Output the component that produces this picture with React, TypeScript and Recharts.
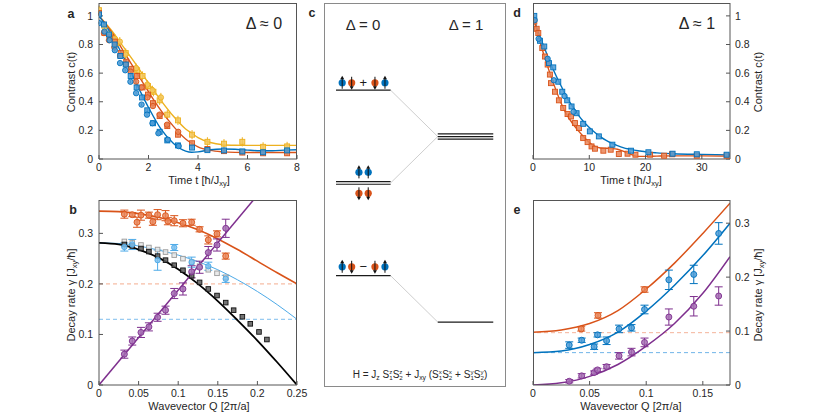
import React from "react";
import { ComposedChart, ErrorBar, Line, ReferenceLine, Scatter, XAxis, YAxis } from "recharts";

const FONT = '"Liberation Sans", Arial, Helvetica, sans-serif';
const AXIS = "#555555";
const TICK = { fontSize: 10.5, fill: "#262626" };
const AX = { type: "number" as const, stroke: AXIS, tickSize: -4, interval: 0 as const, allowDataOverflow: true };

const BLUE = "#0072BD";
const BLUE_FILL = "#4C9BD6";
const ORANGE = "#D95319";
const ORANGE_FILL = "#E98558";
const YELLOW = "#EDB120";
const YELLOW_FILL = "#F3C85E";
const PURPLE = "#7E2F8E";
const PURPLE_FILL = "#A56DB3";
const LIGHT = "#4DAAE8";
const LIGHT_FILL = "#7DC0EE";

// ---- a: contrast c(t), Δ ≈ 0
const aTicksX = [0, 2, 4, 6, 8];
const aTicksY = [0, 0.2, 0.4, 0.6, 0.8, 1];
const aBlueSqT = [0, 0.2, 0.4, 0.63, 0.86, 1.08, 1.28, 1.52, 1.74, 1.95, 2.18, 2.45, 2.76, 3.19, 3.76, 4.38, 5.05, 5.79, 6.63, 7.6];
const aBlueSqC = [1.01, 0.94, 0.87, 0.8, 0.72, 0.66, 0.58, 0.5, 0.43, 0.34, 0.25, 0.19, 0.13, 0.095, 0.08, 0.062, 0.06, 0.053, 0.047, 0.06];
const aBlueCiT = [0, 0.22, 0.43, 0.64, 0.85, 1.06, 1.27, 1.5, 1.72, 1.94, 2.16, 2.4, 2.78, 3.22];
const aBlueCiC = [0.95, 0.89, 0.83, 0.76, 0.67, 0.62, 0.54, 0.46, 0.38, 0.31, 0.25, 0.18, 0.135, 0.09];
const aOrangeSqT = [0, 0.22, 0.43, 0.64, 0.88, 1.1, 1.3, 1.54, 1.76, 1.98, 2.18, 2.45, 2.76, 3.19, 3.76, 4.38, 5.05, 5.79, 6.63, 7.6];
const aOrangeSqC = [1.02, 0.88, 0.85, 0.82, 0.74, 0.68, 0.63, 0.58, 0.5, 0.45, 0.39, 0.3, 0.23, 0.17, 0.11, 0.07, 0.055, 0.045, 0.04, 0.04];
const aOrangeCiT = [0.2, 0.4, 0.62, 0.85, 1.08, 1.28, 1.5, 1.72, 1.96, 2.18, 2.45, 2.75, 3.2];
const aOrangeCiC = [0.88, 0.83, 0.78, 0.72, 0.66, 0.61, 0.54, 0.5, 0.43, 0.37, 0.31, 0.24, 0.19];
const aYellowSqT = [0, 0.43, 0.7, 1.08, 1.54, 1.76, 1.98, 2.2, 2.45, 2.76, 3.19, 3.76, 4.38, 5.05, 5.79, 6.63, 7.6];
const aYellowSqC = [1.04, 0.87, 0.81, 0.74, 0.62, 0.58, 0.51, 0.47, 0.41, 0.31, 0.27, 0.17, 0.12, 0.107, 0.12, 0.085, 0.088];
const aYellowCiT = [0.22, 0.64, 0.84, 1.07, 1.5, 1.95, 2.16, 2.5];
const aYellowCiC = [0.92, 0.84, 0.82, 0.73, 0.635, 0.52, 0.48, 0.43];
const aYellowErr = 0.032;
const aOrangeErr = 0.018;
const aBlueErr = 0.01;
const aFitT = [0, 0.5, 1, 1.5, 2, 2.5, 3, 3.5, 3.75, 4, 4.5, 5, 5.5, 6, 6.5, 7, 7.5, 8];
const aFitBlue = [1.0, 0.87, 0.71, 0.53, 0.36, 0.21, 0.11, 0.055, 0.047, 0.05, 0.065, 0.07, 0.068, 0.062, 0.058, 0.058, 0.062, 0.065];
const aFitOrange = [1.0, 0.89, 0.75, 0.61, 0.47, 0.34, 0.23, 0.14, 0.11, 0.085, 0.06, 0.05, 0.046, 0.045, 0.045, 0.045, 0.045, 0.045];
const aFitYellow = [1.0, 0.9, 0.78, 0.66, 0.53, 0.41, 0.3, 0.21, 0.18, 0.15, 0.115, 0.1, 0.096, 0.095, 0.095, 0.095, 0.095, 0.095];

// ---- b: decay rate vs Q, Δ ≈ 0
const bTicksX = [0, 0.05, 0.1, 0.15, 0.2, 0.25];
const bTicksY = [0, 0.1, 0.2, 0.3];
const bOrangeQ = [0.032, 0.042, 0.048, 0.053, 0.063, 0.068, 0.074, 0.084, 0.087, 0.095, 0.106, 0.117, 0.127, 0.138, 0.149, 0.16];
const bOrangeG = [0.338, 0.337, 0.322, 0.336, 0.336, 0.323, 0.337, 0.335, 0.324, 0.325, 0.32, 0.322, 0.308, 0.287, 0.299, 0.255];
const bOrangeE = [0.008, 0.004, 0.01, 0.01, 0.006, 0.007, 0.01, 0.01, 0.007, 0.01, 0.007, 0.006, 0.005, 0.008, 0.006, 0.006];
const bLightQ = [0.032, 0.042, 0.074, 0.095, 0.117, 0.138, 0.16];
const bLightG = [0.273, 0.278, 0.247, 0.272, 0.243, 0.235, 0.21];
const bLightE = [0.008, 0.01, 0.02, 0.006, 0.01, 0.008, 0.007];
const bGreyQ = [0.032, 0.042, 0.053, 0.063, 0.074, 0.084, 0.095, 0.106, 0.117, 0.127, 0.138, 0.149, 0.16];
const bGreyG = [0.284, 0.281, 0.277, 0.272, 0.268, 0.263, 0.257, 0.25, 0.243, 0.235, 0.228, 0.221, 0.213];
const bBlackQ = [0.032, 0.042, 0.053, 0.063, 0.074, 0.084, 0.095, 0.106, 0.117, 0.127, 0.138, 0.149, 0.16, 0.17, 0.181, 0.191, 0.202, 0.212];
const bBlackG = [0.278, 0.275, 0.27, 0.264, 0.255, 0.247, 0.237, 0.227, 0.216, 0.203, 0.19, 0.177, 0.163, 0.148, 0.135, 0.121, 0.105, 0.09];
const bPurpleQ = [0.032, 0.042, 0.053, 0.063, 0.074, 0.084, 0.095, 0.106, 0.117, 0.127, 0.138, 0.149, 0.16];
const bPurpleG = [0.061, 0.087, 0.104, 0.115, 0.134, 0.148, 0.181, 0.19, 0.224, 0.233, 0.262, 0.277, 0.31];
const bPurpleE = [0.008, 0.008, 0.01, 0.008, 0.008, 0.008, 0.01, 0.012, 0.012, 0.012, 0.012, 0.012, 0.018];
const bFitQ = [0, 0.025, 0.05, 0.075, 0.1, 0.125, 0.15, 0.175, 0.2, 0.225, 0.25];
const bFitOrange = [0.344, 0.343, 0.339, 0.332, 0.321, 0.307, 0.289, 0.268, 0.245, 0.222, 0.2];
const bFitBlack = [0.281, 0.278, 0.268, 0.252, 0.229, 0.2, 0.166, 0.128, 0.088, 0.045, 0];
const bFitLight = [0.281, 0.28, 0.275, 0.267, 0.257, 0.244, 0.228, 0.208, 0.185, 0.159, 0.13];
const bPurpleLineQ = [0, 0.195];
const bPurpleLineG = [0, 0.366];
const bOrangeLevel = 0.2;
const bLightLevel = 0.13;

// ---- c: level scheme (energies in units of J_xy)
const cLevels0 = [0.5, 0, -0.5];
const cDegen0 = [1, 2, 1];
const cLevels1 = [0.25, -0.75];
const cDegen1 = [3, 1];
const cLinkFrom = [0.5, 0, -0.5];
const cLinkTo = [0.25, 0.25, -0.75];
const cSpinX = [1.0, 1.52, 2.16, 2.8, 3.35, 1.92, 2.43, 1.92, 2.43, 1.0, 1.52, 2.16, 2.8, 3.35];
const cSpinE = [0.54, 0.54, 0.54, 0.54, 0.54, 0.057, 0.057, -0.056, -0.056, -0.452, -0.452, -0.452, -0.452, -0.452];
const cSpinKind = ["up", "down", "+", "down", "up", "up", "up", "down", "down", "up", "down", "−", "down", "up"];

// ---- d: contrast c(t), Δ ≈ 1
const dTicksX = [0, 10, 20, 30];
const dTicksY = [0, 0.2, 0.4, 0.6, 0.8, 1];
const dBlueSqT = [0.23, 1.24, 2.0, 2.84, 3.6, 4.49, 5.2, 6.08, 6.85, 7.74, 8.92, 10.1, 11.7, 14.1, 17.4, 20.5, 24.8, 29.1, 34.4];
const dBlueSqC = [1.0, 0.826, 0.786, 0.67, 0.64, 0.54, 0.47, 0.41, 0.367, 0.32, 0.246, 0.193, 0.158, 0.1, 0.058, 0.047, 0.037, 0.033, 0.03];
const dBlueCiT = [0.3, 1.0, 2.6, 3.7, 5.6, 7.2];
const dBlueCiC = [0.97, 0.84, 0.7, 0.55, 0.44, 0.33];
const dOrangeSqT = [0.23, 0.65, 0.94, 1.65, 2.12, 2.6, 3.0, 3.19, 3.9, 4.6, 5.37, 6.14, 6.74, 7.45, 8.16, 8.92, 9.7, 10.4, 11.0, 12.5, 13.8, 15.25, 16.8, 18.2, 20.8, 23.3, 24.7, 29.1, 34.4];
const dOrangeSqC = [0.96, 0.91, 0.88, 0.775, 0.716, 0.66, 0.59, 0.53, 0.47, 0.41, 0.356, 0.314, 0.297, 0.251, 0.216, 0.146, 0.118, 0.088, 0.072, 0.058, 0.065, 0.035, 0.037, 0.03, 0.03, 0.023, 0.033, 0.023, 0.023];
const dFitT = [0, 1, 2, 3, 4, 5, 6, 7, 8, 9, 10, 11, 12, 13, 14, 15, 16, 17, 18, 19, 20, 22, 25, 30, 35];
const dFitBlue = [1.0, 0.88, 0.78, 0.68, 0.59, 0.51, 0.43, 0.37, 0.31, 0.26, 0.22, 0.185, 0.155, 0.13, 0.11, 0.094, 0.08, 0.07, 0.062, 0.056, 0.05, 0.043, 0.037, 0.032, 0.028];
const dFitOrange = [1.0, 0.85, 0.72, 0.6, 0.49, 0.39, 0.31, 0.25, 0.2, 0.155, 0.115, 0.088, 0.077, 0.075, 0.073, 0.068, 0.055, 0.038, 0.024, 0.018, 0.018, 0.02, 0.022, 0.022, 0.02];

// ---- e: decay rate vs Q, Δ ≈ 1
const eTicksX = [0, 0.05, 0.1, 0.15];
const eTicksY = [0, 0.1, 0.2, 0.3];
const eOrangeQ = [0.0426, 0.0574, 0.0985];
const eOrangeG = [0.104, 0.129, 0.177];
const eOrangeE = [0.004, 0.005, 0.005];
const eBlueQ = [0.032, 0.043, 0.054, 0.057, 0.065, 0.076, 0.087, 0.0985, 0.12, 0.142, 0.164];
const eBlueG = [0.074, 0.083, 0.071, 0.093, 0.082, 0.104, 0.106, 0.14, 0.195, 0.205, 0.281];
const eBlueE = [0.006, 0.004, 0.005, 0.004, 0.007, 0.007, 0.006, 0.008, 0.018, 0.017, 0.02];
const ePurpleQ = [0.032, 0.043, 0.054, 0.057, 0.065, 0.076, 0.087, 0.0985, 0.12, 0.142, 0.164];
const ePurpleG = [0.007, 0.017, 0.023, 0.028, 0.034, 0.054, 0.061, 0.079, 0.126, 0.146, 0.165];
const ePurpleE = [0.003, 0.004, 0.003, 0.003, 0.004, 0.006, 0.007, 0.008, 0.015, 0.018, 0.017];
const eFitQ = [0, 0.025, 0.05, 0.075, 0.1, 0.125, 0.15, 0.174];
const eFitOrange = [0.098, 0.102, 0.114, 0.138, 0.178, 0.226, 0.281, 0.337];
const eFitBlue = [0.06, 0.063, 0.075, 0.098, 0.137, 0.185, 0.24, 0.3];
const eFitPurple = [0, 0.004, 0.016, 0.038, 0.072, 0.114, 0.17, 0.238];
const eOrangeLevel = 0.097;
const eBlueLevel = 0.06;

type Row = { x: number; y: number; e?: number; kind?: string };

const rows = (xs: number[], ys: number[], err?: number | number[]): Row[] =>
  xs.map((x, i) => ({
    x,
    y: ys[i],
    e: err === undefined ? undefined : typeof err === "number" ? err : err[i]
  }));

const dot = (fill: string, stroke: string, r = 2.7) => (p: any) =>
  p.cx == null ? <g /> : (
    <circle cx={p.cx} cy={p.cy} r={r} fill={fill} fillOpacity={0.85} stroke={stroke} strokeWidth={0.9} />
  );

const square = (fill: string, stroke: string, s = 5) => (p: any) =>
  p.cx == null ? <g /> : (
    <rect x={p.cx - s / 2} y={p.cy - s / 2} width={s} height={s} fill={fill} fillOpacity={0.85} stroke={stroke} strokeWidth={0.9} />
  );

function points(key: string, data: Row[], shape: any, errColor?: string, cap = 0) {
  return (
    <Scatter key={key} data={data} dataKey="y" shape={shape} isAnimationActive={false}>
      {errColor ? <ErrorBar dataKey="e" direction="y" width={cap} stroke={errColor} strokeWidth={1} /> : null}
    </Scatter>
  );
}

function fit(key: string, data: Row[], color: string, width = 1.4) {
  return (
    <Line
      key={key}
      data={data}
      dataKey="y"
      type="monotone"
      stroke={color}
      strokeWidth={width}
      dot={false}
      activeDot={false}
      isAnimationActive={false}
    />
  );
}

const levelShape = (n: number) => (p: any) => {
  const gap = 2.6;
  const lines = [];
  for (let i = 0; i < n; i++) {
    const dy = (i - (n - 1) / 2) * gap;
    lines.push(<line key={i} x1={p.x1} x2={p.x2} y1={p.y1 + dy} y2={p.y2 + dy} stroke="#1a1a1a" strokeWidth={1.2} />);
  }
  return <g>{lines}</g>;
};

const spinShape = (p: any) => {
  const { cx, cy, payload } = p;
  if (cx == null) return <g />;
  if (payload.kind !== "up" && payload.kind !== "down") {
    return (
      <text x={cx} y={cy + 4} textAnchor="middle" fontSize={13} fill="#1a1a1a">
        {payload.kind}
      </text>
    );
  }
  const up = payload.kind === "up";
  const d = up ? -1 : 1;
  const tip = cy + d * 7;
  return (
    <g>
      <circle cx={cx} cy={cy} r={3.6} fill={up ? BLUE : ORANGE} />
      <line x1={cx} y1={cy - d * 6} x2={cx} y2={tip - d * 3} stroke="#111" strokeWidth={1} />
      <path d={`M${cx - 2},${tip - d * 3.5} L${cx + 2},${tip - d * 3.5} L${cx},${tip} Z`} fill="#111" />
    </g>
  );
};

// closes the axes box on the sides opposite to the labelled axes
function Box({ left, top, width, height, open }: any) {
  const line = `1px solid ${AXIS}`;
  return (
    <div
      style={{
        position: "absolute",
        zIndex: 2,
        left,
        top,
        width,
        height,
        boxSizing: "border-box",
        borderTop: line,
        borderRight: open === "left" ? line : "none",
        borderLeft: open === "right" ? line : "none",
        pointerEvents: "none"
      }}
    />
  );
}

function Txt({ x, y, size = 11, bold = false, rotate = false, children }: any) {
  return (
    <div
      style={{
        position: "absolute",
        zIndex: 3,
        left: x,
        top: y,
        transform: `translate(-50%, -50%)${rotate ? " rotate(-90deg)" : ""}`,
        fontSize: size,
        fontWeight: bold ? 700 : 400,
        whiteSpace: "nowrap",
        lineHeight: 1
      }}
    >
      {children}
    </div>
  );
}

const Sub = ({ children }: any) => (
  <span style={{ fontSize: "0.68em", position: "relative", top: "0.3em" }}>{children}</span>
);

const SS = ({ sup, sub }: any) => (
  <span>
    S
    <span style={{ display: "inline-flex", flexDirection: "column", fontSize: "0.62em", lineHeight: 0.95, verticalAlign: "middle" }}>
      <span>{sup}</span>
      <span>{sub}</span>
    </span>
  </span>
);

export default function App() {
  const spins = cSpinX.map((x, i) => ({ x, y: cSpinE[i], kind: cSpinKind[i] }));

  return (
    <div
      style={{
        position: "absolute",
        left: 0,
        top: 0,
        width: 830,
        height: 417,
        background: "#fff",
        fontFamily: FONT,
        color: "#262626"
      }}
    >
      {/* a */}
      <div style={{ position: "absolute", left: 0, top: 0 }}>
        <ComposedChart width={320} height={190} margin={{ top: 3, right: 23, bottom: 11, left: 69 }}>
          <XAxis dataKey="x" domain={[0, 8]} ticks={aTicksX} height={20} tickMargin={9} tick={TICK} {...AX} />
          <YAxis dataKey="y" domain={[0, 1.09]} ticks={aTicksY} width={30} tickMargin={10} tick={TICK} {...AX} />
          {points("ys", rows(aYellowSqT, aYellowSqC, aYellowErr), square(YELLOW_FILL, YELLOW), YELLOW)}
          {points("yc", rows(aYellowCiT, aYellowCiC, aYellowErr), dot(YELLOW_FILL, YELLOW), YELLOW)}
          {points("os", rows(aOrangeSqT, aOrangeSqC, aOrangeErr), square(ORANGE_FILL, ORANGE), ORANGE)}
          {points("oc", rows(aOrangeCiT, aOrangeCiC, aOrangeErr), dot(ORANGE_FILL, ORANGE), ORANGE)}
          {points("bs", rows(aBlueSqT, aBlueSqC, aBlueErr), square(BLUE_FILL, BLUE), BLUE)}
          {points("bc", rows(aBlueCiT, aBlueCiC, aBlueErr), dot(BLUE_FILL, BLUE), BLUE)}
          {fit("fy", rows(aFitT, aFitYellow), YELLOW)}
          {fit("fo", rows(aFitT, aFitOrange), ORANGE)}
          {fit("fb", rows(aFitT, aFitBlue), BLUE)}
        </ComposedChart>
      </div>
      <Box left={99} top={3} width={198} height={156} open="left" />

      {/* b */}
      <div style={{ position: "absolute", left: 0, top: 190 }}>
        <ComposedChart width={320} height={227} margin={{ top: 10, right: 23, bottom: 12, left: 69 }}>
          <XAxis dataKey="x" domain={[0, 0.25]} ticks={bTicksX} height={20} tickMargin={9} tick={TICK} {...AX} />
          <YAxis dataKey="y" domain={[0, 0.366]} ticks={bTicksY} width={30} tickMargin={10} tick={TICK} {...AX} />
          <ReferenceLine y={bOrangeLevel} stroke="#F4AD8F" strokeDasharray="4 3" strokeWidth={1} />
          <ReferenceLine y={bLightLevel} stroke="#7DBDED" strokeDasharray="4 3" strokeWidth={1} />
          {fit("fl", rows(bFitQ, bFitLight), LIGHT, 1)}
          {fit("fk", rows(bFitQ, bFitBlack), "#000", 1.8)}
          {fit("fo", rows(bFitQ, bFitOrange), ORANGE, 1.6)}
          {fit("fp", rows(bPurpleLineQ, bPurpleLineG), PURPLE, 1.5)}
          {points("g", rows(bGreyQ, bGreyG), square("#e6e6e6", "#9a9a9a", 4.6))}
          {points("k", rows(bBlackQ, bBlackG), square("#5a5a5a", "#111", 4.6))}
          {points("l", rows(bLightQ, bLightG, bLightE), dot(LIGHT_FILL, LIGHT), LIGHT, 4)}
          {points("o", rows(bOrangeQ, bOrangeG, bOrangeE), dot(ORANGE_FILL, ORANGE, 3), ORANGE, 4)}
          {points("p", rows(bPurpleQ, bPurpleG, bPurpleE), dot(PURPLE_FILL, PURPLE, 3), PURPLE, 4)}
        </ComposedChart>
      </div>
      <Box left={99} top={200} width={198} height={185} open="left" />

      {/* c */}
      <div
        style={{
          position: "absolute",
          left: 324,
          top: 3,
          width: 182,
          height: 384,
          border: "1px solid #8a8a8a",
          boxSizing: "border-box"
        }}
      />
      <div style={{ position: "absolute", left: 324, top: 3 }}>
        <ComposedChart width={182} height={384} margin={{ top: 0, right: 0, bottom: 0, left: 0 }}>
          <XAxis type="number" dataKey="x" domain={[0, 10]} hide />
          <YAxis type="number" dataKey="y" domain={[-1.1, 0.97]} hide />
          {cLinkFrom.map((e0, i) => (
            <ReferenceLine
              key={`link${i}`}
              segment={[
                { x: 3.66, y: e0 },
                { x: 6.25, y: cLinkTo[i] }
              ]}
              stroke="#c2c2c2"
              strokeWidth={0.8}
            />
          ))}
          {cLevels0.map((e, i) => (
            <ReferenceLine
              key={`l0${i}`}
              segment={[
                { x: 0.66, y: e },
                { x: 3.66, y: e }
              ]}
              shape={levelShape(cDegen0[i])}
            />
          ))}
          {cLevels1.map((e, i) => (
            <ReferenceLine
              key={`l1${i}`}
              segment={[
                { x: 6.25, y: e },
                { x: 9.3, y: e }
              ]}
              shape={levelShape(cDegen1[i])}
            />
          ))}
          <Scatter data={spins} dataKey="y" shape={spinShape} isAnimationActive={false} />
        </ComposedChart>
      </div>

      {/* d */}
      <div style={{ position: "absolute", left: 500, top: 0 }}>
        <ComposedChart width={330} height={190} margin={{ top: 3, right: 70, bottom: 11, left: 33 }}>
          <XAxis dataKey="x" domain={[0, 35]} ticks={dTicksX} height={20} tickMargin={9} tick={TICK} {...AX} />
          <YAxis dataKey="y" orientation="right" domain={[0, 1.09]} ticks={dTicksY} width={30} tickMargin={9} tick={TICK} {...AX} />
          {points("os", rows(dOrangeSqT, dOrangeSqC), square(ORANGE_FILL, ORANGE))}
          {points("bs", rows(dBlueSqT, dBlueSqC), square(BLUE_FILL, BLUE))}
          {points("bc", rows(dBlueCiT, dBlueCiC), dot(BLUE_FILL, BLUE))}
          {fit("fb", rows(dFitT, dFitBlue), BLUE)}
          {fit("fo", rows(dFitT, dFitOrange), ORANGE)}
        </ComposedChart>
      </div>
      <Box left={533} top={3} width={197} height={156} open="right" />

      {/* e */}
      <div style={{ position: "absolute", left: 500, top: 190 }}>
        <ComposedChart width={330} height={227} margin={{ top: 10, right: 70, bottom: 12, left: 33 }}>
          <XAxis dataKey="x" domain={[0, 0.174]} ticks={eTicksX} height={20} tickMargin={9} tick={TICK} {...AX} />
          <YAxis dataKey="y" orientation="right" domain={[0, 0.343]} ticks={eTicksY} width={30} tickMargin={9} tick={TICK} {...AX} />
          <ReferenceLine y={eOrangeLevel} stroke="#F4B39A" strokeDasharray="4 3" strokeWidth={1} />
          <ReferenceLine y={eBlueLevel} stroke="#6FB4E8" strokeDasharray="4 3" strokeWidth={1} />
          {fit("fo", rows(eFitQ, eFitOrange), ORANGE, 1.5)}
          {fit("fb", rows(eFitQ, eFitBlue), BLUE, 1.5)}
          {fit("fp", rows(eFitQ, eFitPurple), PURPLE, 1.5)}
          {points("o", rows(eOrangeQ, eOrangeG, eOrangeE), dot(ORANGE_FILL, ORANGE, 3), ORANGE, 4)}
          {points("b", rows(eBlueQ, eBlueG, eBlueE), dot(BLUE_FILL, BLUE, 3), BLUE, 4)}
          {points("p", rows(ePurpleQ, ePurpleG, ePurpleE), dot(PURPLE_FILL, PURPLE, 3), PURPLE, 4)}
        </ComposedChart>
      </div>
      <Box left={533} top={200} width={197} height={185} open="right" />

      {/* texts */}
      <Txt x={71} y={14} size={12.5} bold>a</Txt>
      <Txt x={73} y={210} size={12.5} bold>b</Txt>
      <Txt x={312} y={13} size={12.5} bold>c</Txt>
      <Txt x={517} y={13} size={12.5} bold>d</Txt>
      <Txt x={517} y={210} size={12.5} bold>e</Txt>

      <Txt x={264} y={24} size={16}>Δ ≈ 0</Txt>
      <Txt x={697} y={24} size={16}>Δ ≈ 1</Txt>
      <Txt x={363} y={24} size={15}>Δ = 0</Txt>
      <Txt x={466} y={24} size={15}>Δ = 1</Txt>

      <Txt x={71} y={82} rotate>Contrast c(t)</Txt>
      <Txt x={71} y={295} rotate>
        Decay rate γ [J<Sub>xy</Sub>/ħ]
      </Txt>
      <Txt x={758} y={82} rotate>Contrast c(t)</Txt>
      <Txt x={758} y={295} rotate>
        Decay rate γ [J<Sub>xy</Sub>/ħ]
      </Txt>

      <Txt x={199} y={180}>
        Time t [ħ/J<Sub>xy</Sub>]
      </Txt>
      <Txt x={631} y={180}>
        Time t [ħ/J<Sub>xy</Sub>]
      </Txt>
      <Txt x={199} y={406}>Wavevector Q [2π/a]</Txt>
      <Txt x={631} y={406}>Wavevector Q [2π/a]</Txt>

      <Txt x={420} y={375} size={10}>
        H = J<Sub>z</Sub> <SS sup="z" sub="1" />
        <SS sup="z" sub="2" /> + J<Sub>xy</Sub> (<SS sup="x" sub="1" />
        <SS sup="x" sub="2" /> + <SS sup="y" sub="1" />
        <SS sup="y" sub="2" />)
      </Txt>
    </div>
  );
}
